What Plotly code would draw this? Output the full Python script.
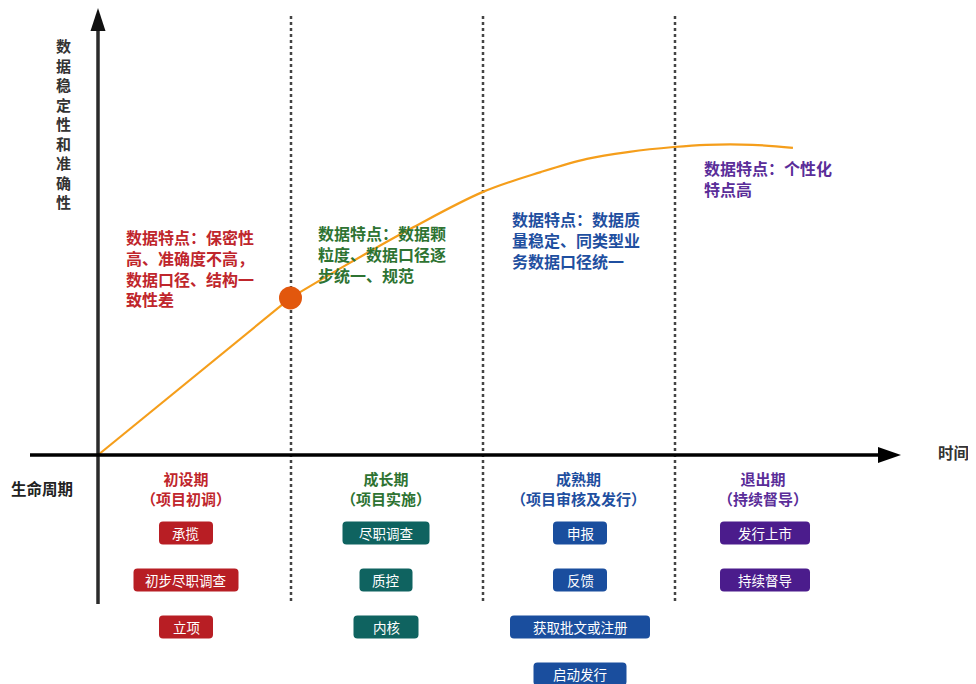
import plotly.graph_objects as go

# ---------------- data ----------------
stages = ["初设期", "成长期", "成熟期", "退出期"]
stage_subtitles = ["（项目初调）", "（项目实施）", "（项目审核及发行）", "（持续督导）"]
features = [
    "数据特点：保密性<br>高、准确度不高，<br>数据口径、结构一<br>致性差",
    "数据特点：数据颗<br>粒度、数据口径逐<br>步统一、规范",
    "数据特点：数据质<br>量稳定、同类型业<br>务数据口径统一",
    "数据特点：个性化<br>特点高",
]
tasks = [
    ["承揽", "初步尽职调查", "立项"],
    ["尽职调查", "质控", "内核"],
    ["申报", "反馈", "获取批文或注册", "启动发行"],
    ["发行上市", "持续督导"],
]
# curve: time (stage units) vs data stability/accuracy
curve_x = [0, 0.50, 1.00, 1.29, 1.64, 2.00, 2.30, 2.54, 2.76, 2.99, 3.16, 3.40, 3.61]
curve_y = [0, 1.79, 3.57, 4.32, 5.18, 5.98, 6.43, 6.73, 6.89, 7.00, 7.05, 7.05, 6.98]
marker_x = [1.0]
marker_y = [3.57]
y_label = "数据稳定性和准确性"
x_label = "时间"
row_label = "生命周期"

# ---------------- styles / layout ----------------
PAGE_OFF = 8          # browser body margin
W, H = 976 - PAGE_OFF, 684 - PAGE_OFF
X0, SX = 98, 192.5    # origin (page pixel) and pixels per stage
Y0, SY = 455, 44      # origin (page pixel) and pixels per y unit


def dx(px):
    return (px - X0) / SX


def dy(py):
    return (Y0 - py) / SY


text_colors = ["#BF262C", "#2E7332", "#1F4FA0", "#5A2D99"]
box_colors = ["#B81E24", "#0F6360", "#1A4E9E", "#4B1C8C"]
col_centers = [186, 386, 580, 765]
title_centers = [186, 386, 578, 763]
feature_pos = [(124, 223), (316, 219), (510, 205), (702, 154)]
box_widths = [[54, 105, 54], [87, 53, 65], [54, 54, 140, 93], [90, 90]]
row_centers = [533, 580, 627, 674]
divider_px = [291, 483, 675]
FONT = "Noto Sans CJK SC"
CURVE_COLOR = "#F59E1B"

# split index: the growth up to the marker is straight, afterwards it bends smoothly
k = curve_x.index(marker_x[0])
fig = go.Figure()
fig.add_trace(go.Scatter(x=curve_x[:k + 1], y=curve_y[:k + 1], mode="lines",
                         line=dict(color=CURVE_COLOR, width=2.2), hoverinfo="skip"))
fig.add_trace(go.Scatter(x=curve_x[k:], y=curve_y[k:], mode="lines",
                         line=dict(color=CURVE_COLOR, width=2.2, shape="spline", smoothing=1.0),
                         hoverinfo="skip"))
fig.add_trace(go.Scatter(x=marker_x, y=marker_y, mode="markers",
                         marker=dict(color="#E2570D", size=23), hoverinfo="skip"))

shapes = []
# dotted dividers
for px in divider_px:
    shapes.append(dict(type="line", xref="x", yref="y", x0=dx(px), x1=dx(px), y0=dy(16), y1=dy(604),
                       line=dict(color="#444444", width=2.5, dash="dot"), layer="below"))
# axes lines
shapes.append(dict(type="line", xref="x", yref="y", x0=dx(98), x1=dx(98), y0=dy(604), y1=dy(28),
                   line=dict(color="#2b2b2b", width=3.5)))
shapes.append(dict(type="line", xref="x", yref="y", x0=dx(30), x1=dx(882), y0=dy(455), y1=dy(455),
                   line=dict(color="#000000", width=3.5)))


def tri(pts):
    return "M " + " L ".join(f"{dx(a)},{dy(b)}" for a, b in pts) + " Z"


shapes.append(dict(type="path", xref="x", yref="y", path=tri([(98, 8), (90.5, 31), (105.5, 31)]),
                   fillcolor="#111111", line=dict(width=0)))
shapes.append(dict(type="path", xref="x", yref="y", path=tri([(901, 455), (878, 447), (878, 463)]),
                   fillcolor="#000000", line=dict(width=0)))


def rrect(cx, cy, w, h, r=4):
    x0, x1, y0, y1 = cx - w / 2, cx + w / 2, cy - h / 2, cy + h / 2
    p = [
        f"M {dx(x0 + r)},{dy(y0)}",
        f"L {dx(x1 - r)},{dy(y0)}",
        f"Q {dx(x1)},{dy(y0)} {dx(x1)},{dy(y0 + r)}",
        f"L {dx(x1)},{dy(y1 - r)}",
        f"Q {dx(x1)},{dy(y1)} {dx(x1 - r)},{dy(y1)}",
        f"L {dx(x0 + r)},{dy(y1)}",
        f"Q {dx(x0)},{dy(y1)} {dx(x0)},{dy(y1 - r)}",
        f"L {dx(x0)},{dy(y0 + r)}",
        f"Q {dx(x0)},{dy(y0)} {dx(x0 + r)},{dy(y0)}",
        "Z",
    ]
    return " ".join(p)


annotations = []
for i, items in enumerate(tasks):
    for j, t in enumerate(items):
        cx, cy = col_centers[i], row_centers[j]
        shapes.append(dict(type="path", xref="x", yref="y", path=rrect(cx, cy, box_widths[i][j], 23),
                           fillcolor=box_colors[i], line=dict(width=0)))
        annotations.append(dict(x=dx(cx), y=dy(cy), xref="x", yref="y", text=t, showarrow=False,
                                font=dict(family=FONT, size=13.5, color="white")))
    # stage titles
    annotations.append(dict(x=dx(title_centers[i]), y=dy(488), xref="x", yref="y",
                            text=f"<b>{stages[i]}<br>{stage_subtitles[i]}</b>", showarrow=False,
                            align="center", font=dict(family=FONT, size=15, color=text_colors[i])))
    # features
    fx, fy = feature_pos[i]
    annotations.append(dict(x=dx(fx), y=dy(fy), xref="x", yref="y", xanchor="left", yanchor="top",
                            text=f"<b>{features[i]}</b>", showarrow=False, align="left",
                            font=dict(family=FONT, size=16, color=text_colors[i])))

annotations.append(dict(x=dx(63), y=dy(33), xref="x", yref="y", yanchor="top",
                        text="<b>" + "<br>".join(y_label) + "</b>", showarrow=False,
                        font=dict(family=FONT, size=15, color="#333333")))
annotations.append(dict(x=dx(42), y=dy(488), xref="x", yref="y", text=f"<b>{row_label}</b>",
                        showarrow=False, font=dict(family=FONT, size=15.5, color="#222222")))
annotations.append(dict(x=dx(953), y=dy(452), xref="x", yref="y", text=f"<b>{x_label}</b>",
                        showarrow=False, font=dict(family=FONT, size=15.5, color="#333333")))

fig.update_layout(
    width=W, height=H, margin=dict(l=0, r=0, t=0, b=0),
    paper_bgcolor="white", plot_bgcolor="white", showlegend=False,
    xaxis=dict(range=[dx(PAGE_OFF), dx(976)], visible=False, fixedrange=True),
    yaxis=dict(range=[dy(684), dy(PAGE_OFF)], visible=False, fixedrange=True),
    shapes=shapes, annotations=annotations,
    font=dict(family=FONT),
)
fig.write_html("out.html")
